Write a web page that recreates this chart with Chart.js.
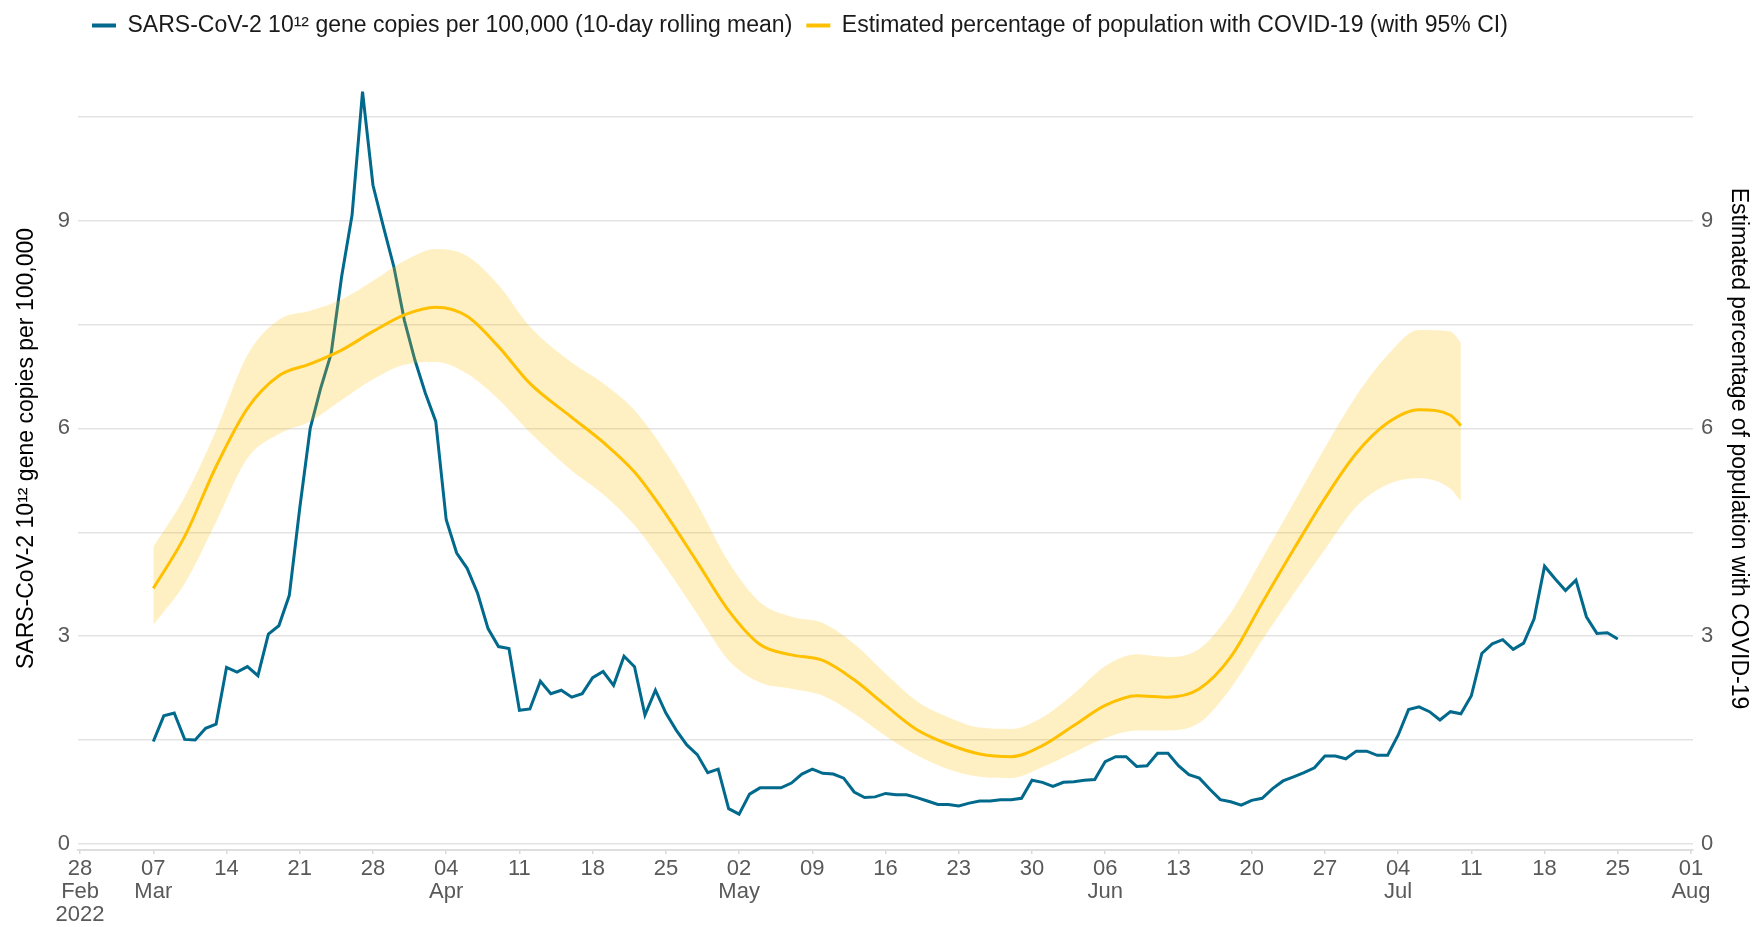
<!DOCTYPE html>
<html>
<head>
<meta charset="utf-8">
<title>SARS-CoV-2 in wastewater and estimated COVID-19 positivity</title>
<script src="https://cdn.jsdelivr.net/npm/chart.js@4.4.1/dist/chart.umd.min.js"></script>
<style>
    html, body { margin: 0; padding: 0; background: #ffffff; }
    #wrap { width: 1755px; height: 927px; position: relative; }
</style>
</head>
<body>
<div id="wrap"><canvas id="wastewaterChart"></canvas></div>
<script>
// Days counted from 28 Feb 2022 (day 0); weekly ticks out to 01 Aug 2022
const tickDays = [0, 7, 14, 21, 28, 35, 42, 49, 56, 63, 70, 77, 84, 91, 98, 105, 112, 119, 126, 133, 140, 147, 154];
const tickLabels = [
    ['28', 'Feb', '2022'], ['07', 'Mar'], ['14'], ['21'], ['28'], ['04', 'Apr'], ['11'], ['18'], ['25'],
    ['02', 'May'], ['09'], ['16'], ['23'], ['30'], ['06', 'Jun'], ['13'], ['20'], ['27'],
    ['04', 'Jul'], ['11'], ['18'], ['25'], ['01', 'Aug']
];
const yGridValues = [0, 1.5, 3, 4.5, 6, 7.5, 9, 10.5];

// Wastewater: 10-day rolling mean, one value per day from 07 Mar to 25 Jul
const rnaFirstDay = 7;
const rnaValues = [
    1.48, 1.85, 1.89, 1.51, 1.50, 1.67, 1.73, 2.55, 2.48, 2.56, 2.43, 3.03, 3.15, 3.59,
    4.85, 6.00, 6.58, 7.08, 8.19, 9.08, 10.86, 9.51, 8.91, 8.33, 7.56, 6.99, 6.51, 6.10,
    4.68, 4.20, 3.98, 3.62, 3.11, 2.85, 2.82, 1.93, 1.95, 2.35, 2.17, 2.22, 2.12, 2.17,
    2.40, 2.49, 2.29, 2.71, 2.56, 1.86, 2.22, 1.89, 1.64, 1.43, 1.29, 1.03, 1.08, 0.51,
    0.43, 0.72, 0.81, 0.81, 0.81, 0.88, 1.01, 1.08, 1.02, 1.01, 0.95, 0.75, 0.67, 0.68,
    0.73, 0.71, 0.71, 0.67, 0.62, 0.57, 0.57, 0.55, 0.59, 0.62, 0.62, 0.64, 0.64, 0.66,
    0.92, 0.89, 0.83, 0.89, 0.90, 0.92, 0.93, 1.19, 1.26, 1.26, 1.12, 1.13, 1.31, 1.31,
    1.13, 1.00, 0.95, 0.79, 0.64, 0.61, 0.56, 0.63, 0.66, 0.80, 0.91, 0.97, 1.03, 1.10,
    1.27, 1.27, 1.23, 1.34, 1.34, 1.28, 1.28, 1.57, 1.94, 1.98, 1.91, 1.79, 1.91, 1.88,
    2.14, 2.75, 2.89, 2.95, 2.81, 2.90, 3.25, 4.01, 3.83, 3.66, 3.81, 3.28, 3.04, 3.05,
    2.96
];

// Modelled positivity estimate (%), with 95% credible interval
const estimateDays = [7, 10, 13, 16, 19, 22, 25, 28, 31, 34, 37, 40, 43, 47, 50, 53, 56, 59, 62, 65, 68, 71,
    74, 77, 80, 83, 86, 89, 92, 95, 98, 101, 104, 107, 110, 113, 116, 119, 122, 125, 128, 131, 132];
const estimateMid = [3.69, 4.44, 5.45, 6.29, 6.76, 6.93, 7.13, 7.40, 7.64, 7.75, 7.62, 7.18, 6.65, 6.16, 5.80,
    5.37, 4.76, 4.07, 3.37, 2.88, 2.73, 2.65, 2.37, 2.00, 1.65, 1.44, 1.30, 1.26, 1.42, 1.71, 2.00, 2.14,
    2.12, 2.24, 2.70, 3.48, 4.25, 4.99, 5.64, 6.08, 6.27, 6.19, 6.04];
const estimateUpper = [4.29, 5.01, 5.97, 7.06, 7.57, 7.70, 7.86, 8.13, 8.42, 8.59, 8.49, 8.07, 7.47, 6.95, 6.65,
    6.26, 5.65, 4.91, 4.07, 3.49, 3.28, 3.19, 2.89, 2.46, 2.06, 1.83, 1.68, 1.66, 1.83, 2.17, 2.57, 2.74,
    2.70, 2.82, 3.34, 4.12, 4.92, 5.72, 6.47, 7.06, 7.42, 7.40, 7.24];
const estimateLower = [3.16, 3.76, 4.65, 5.57, 5.92, 6.10, 6.41, 6.71, 6.92, 6.96, 6.79, 6.42, 5.94, 5.39, 5.05,
    4.60, 3.99, 3.32, 2.65, 2.33, 2.24, 2.14, 1.88, 1.56, 1.28, 1.08, 0.97, 0.95, 1.11, 1.32, 1.53, 1.64,
    1.64, 1.75, 2.25, 2.94, 3.61, 4.25, 4.87, 5.19, 5.28, 5.13, 4.95];

const blue = '#00698c';
const gold = '#ffc000';
const band = 'rgba(255, 192, 0, 0.23)';
const fontFamily = '"Liberation Sans", Arial, sans-serif';

const rnaPoints = rnaValues.map((v, i) => ({ x: rnaFirstDay + i, y: v }));
const toPoints = (values) => values.map((v, i) => ({ x: estimateDays[i], y: v }));

// legend sits in a fixed 47px strip, starting over the plot's left edge
const legendPlacement = {
    id: 'legendPlacement',
    beforeInit(chart) {
        const fit = chart.legend.fit;
        chart.legend.fit = function () {
            fit.call(this);
            this.height = 47;
        };
    },
    afterLayout(chart) {
        chart.legend.left = 78;
    }
};

const yTicks = {
    color: '#595959',
    font: { family: fontFamily, size: 22 },
    padding: 8,
    callback: (value) => (value % 3 === 0 ? String(value) : '')
};

new Chart(document.getElementById('wastewaterChart'), {
    type: 'line',
    data: {
        datasets: [
            {
                label: 'SARS-CoV-2 10\u00B9\u00B2 gene copies per 100,000 (10-day rolling mean)',
                data: rnaPoints,
                yAxisID: 'y',
                borderColor: blue,
                backgroundColor: blue,
                borderWidth: 3,
                tension: 0,
                pointRadius: 0,
                fill: false,
                order: 3
            },
            {
                label: 'Estimated percentage of population with COVID-19 (with 95% CI)',
                data: toPoints(estimateMid),
                yAxisID: 'y1',
                borderColor: gold,
                backgroundColor: gold,
                borderWidth: 3,
                cubicInterpolationMode: 'monotone',
                pointRadius: 0,
                fill: false,
                order: 0
            },
            {
                label: 'upper',
                data: toPoints(estimateUpper),
                yAxisID: 'y1',
                borderWidth: 0,
                borderColor: 'rgba(0,0,0,0)',
                backgroundColor: band,
                cubicInterpolationMode: 'monotone',
                pointRadius: 0,
                fill: '+1',
                order: 1
            },
            {
                label: 'lower',
                data: toPoints(estimateLower),
                yAxisID: 'y1',
                borderWidth: 0,
                borderColor: 'rgba(0,0,0,0)',
                backgroundColor: band,
                cubicInterpolationMode: 'monotone',
                pointRadius: 0,
                fill: false,
                order: 2
            }
        ]
    },
    options: {
        responsive: true,
        maintainAspectRatio: false,
        animation: false,
        layout: { padding: 0 },
        plugins: {
            legend: {
                position: 'top',
                align: 'start',
                labels: {
                    color: '#1a1a1a',
                    font: { family: fontFamily, size: 23 },
                    boxWidth: 24,
                    boxHeight: 4,
                    padding: 14,
                    generateLabels: (chart) =>
                        Chart.defaults.plugins.legend.labels.generateLabels(chart)
                            .filter((item) => item.datasetIndex < 2)
                            .sort((a, b) => a.datasetIndex - b.datasetIndex)
                            .map((item) => ({ ...item, lineWidth: 0 }))
                },
                onClick: null
            },
            tooltip: { enabled: false }
        },
        scales: {
            x: {
                type: 'linear',
                min: -0.2,
                max: 154.19,
                afterBuildTicks: (scale) => {
                    scale.ticks = tickDays.map((d) => ({ value: d }));
                },
                afterFit: (scale) => { scale.height = 77; },
                grid: {
                    drawOnChartArea: false,
                    drawTicks: true,
                    tickLength: 4,
                    tickColor: '#d9d9d9',
                    lineWidth: 1.5
                },
                border: { display: true, color: '#dedede', width: 2 },
                ticks: {
                    color: '#595959',
                    font: { family: fontFamily, size: 22, lineHeight: 1.06 },
                    padding: 3,
                    maxRotation: 0,
                    autoSkip: false,
                    callback: (value, index) => tickLabels[index]
                }
            },
            y: {
                position: 'left',
                min: -0.087,
                max: 11.506,
                afterBuildTicks: (scale) => {
                    scale.ticks = yGridValues.map((v) => ({ value: v }));
                },
                afterFit: (scale) => { scale.width = 78; },
                grid: { color: '#e3e3e3', lineWidth: 1.5, drawTicks: false },
                border: { display: false },
                ticks: yTicks,
                title: {
                    display: true,
                    text: 'SARS-CoV-2 10\u00B9\u00B2 gene copies per 100,000',
                    color: '#000000',
                    font: { family: fontFamily, size: 23, lineHeight: 1.2 },
                    padding: { top: 13, bottom: 0 }
                }
            },
            y1: {
                position: 'right',
                min: -0.087,
                max: 11.506,
                afterBuildTicks: (scale) => {
                    scale.ticks = yGridValues.map((v) => ({ value: v }));
                },
                afterFit: (scale) => { scale.width = 62; },
                grid: { display: false, drawTicks: false },
                border: { display: false },
                ticks: yTicks,
                title: {
                    display: true,
                    text: 'Estimated percentage of population with COVID-19',
                    color: '#000000',
                    font: { family: fontFamily, size: 23, lineHeight: 1.2 },
                    padding: { top: 3, bottom: 0 }
                }
            }
        }
    },
    plugins: [legendPlacement]
});
</script>
</body>
</html>
